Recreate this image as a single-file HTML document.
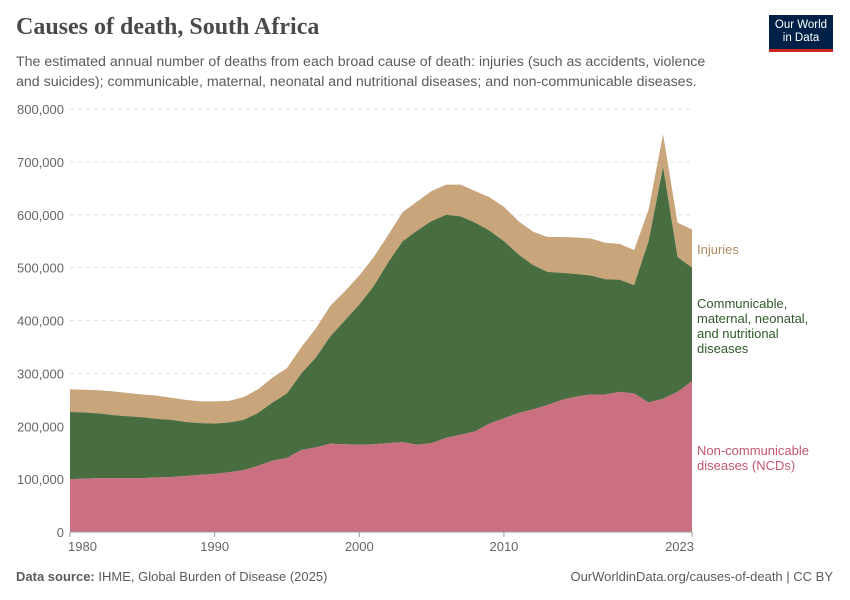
<!DOCTYPE html>
<html><head><meta charset="utf-8"><style>
body{margin:0;width:850px;height:600px;background:#fff;font-family:"Liberation Sans",sans-serif;overflow:hidden;position:relative}
.t{position:absolute}
</style></head><body>
<div class="t" style="left:16px;top:14px;font-family:'Liberation Serif',serif;font-size:24px;font-weight:bold;color:#4a4a4a">Causes of death, South Africa</div>
<div class="t" style="left:16px;top:52px;width:705px;font-size:14.2px;line-height:20px;color:#5b5b5b">The estimated annual number of deaths from each broad cause of death: injuries (such as accidents, violence and suicides); communicable, maternal, neonatal and nutritional diseases; and non-communicable diseases.</div>
<div class="t" style="left:769px;top:15px;width:64px;height:37px;background:#002147;border-bottom:3px solid #ce261e;color:#fff;font-size:11.5px;line-height:13px;text-align:center;padding-top:4px;box-sizing:border-box">Our World<br>in Data</div>
<svg id="c" class="t" style="left:0;top:0" width="850" height="600"></svg>
<div class="t" style="left:16px;top:569px;font-size:13px;color:#5b5b5b"><b>Data source:</b> IHME, Global Burden of Disease (2025)</div>
<div class="t" style="right:17px;top:569px;font-size:13px;color:#5b5b5b">OurWorldinData.org/causes-of-death | CC BY</div>
<script>
const years=[];for(let y=1980;y<=2023;y++)years.push(y);
const ncd=[100,101,102,102,102,102,103,104,106,108,110,113,117,125,135,140,155,160,167,166,165,166,168,170,165,168,178,184,190,205,215,225,232,240,250,256,260,260,265,262,245,252,265,285];
const comm=[127,125,122,119,117,115,111,108,102,98,95,94,95,100,110,122,145,170,203,234,265,299,342,380,405,420,422,413,395,365,335,300,273,252,240,232,225,218,212,205,305,438,255,215];
const inj=[43,43,44,45,44,43,44,42,42,41,42,41,43,45,47,48,50,55,58,55,55,55,52,55,55,57,57,60,60,63,65,63,63,66,68,69,70,69,68,66,60,62,65,72];
const yTicks=[0,100,200,300,400,500,600,700,800];
const xTicks=[1980,1990,2000,2010,2023];
const svg=document.getElementById('c');const NS='http://www.w3.org/2000/svg';
const X=y=>70+(y-1980)*(692-70)/43;
const Y=v=>532-v*(532-109)/800;
function mk(t,a){const e=document.createElementNS(NS,t);for(const k in a)e.setAttribute(k,a[k]);svg.appendChild(e);return e;}
yTicks.forEach(v=>{
 if(v>0){const l=mk('line',{x1:70,x2:692,y1:Y(v),y2:Y(v),stroke:'#ddd','stroke-dasharray':'4,4'});
 
 }
 const t=mk('text',{x:64,y:Y(v)+5,'text-anchor':'end','font-size':13,fill:'#666','font-family':'Liberation Sans'});
 t.textContent=v===0?'0':(v*1000).toLocaleString('en-US');
 
 
});
const base=years.map(()=>0),s1=ncd.slice(),s2=ncd.map((v,i)=>v+comm[i]),s3=s2.map((v,i)=>v+inj[i]);
function area(lo,hi,col,name){
 let d='M'+years.map((y,i)=>X(y)+','+Y(hi[i])).join('L');
 for(let i=years.length-1;i>=0;i--)d+='L'+X(years[i])+','+Y(lo[i]);
 const p=mk('path',{d:d+'Z',fill:col});
 
 
}
area(s2,s3,'#c8a57a','injuries-area');
area(s1,s2,'#486d40','communicable-area');
area(base,s1,'#cb7081','ncd-area');
mk('line',{x1:70,x2:692,y1:532,y2:532,stroke:'#999'});
xTicks.forEach(y=>{
 mk('line',{x1:X(y),x2:X(y),y1:532,y2:537,stroke:'#999'});
 const t=mk('text',{x:X(y),y:551,'text-anchor':y===1980?'start':(y===2023?'end':'middle'),'font-size':13,fill:'#666','font-family':'Liberation Sans'});
 if(y===1980)t.setAttribute('x',X(y)-2);
 if(y===2023)t.setAttribute('x',X(y)+2);
 t.textContent=y;
 
 
});
function lab(lines,y0,col,name){
 const t=mk('text',{x:697,y:y0,'font-size':13,fill:col,'font-family':'Liberation Sans'});
 lines.forEach((s,i)=>{const ts=document.createElementNS(NS,'tspan');ts.setAttribute('x',697);ts.setAttribute('dy',i?15:0);ts.textContent=s;t.appendChild(ts);});
 
 
}
lab(['Injuries'],254,'#b08a5e','injuries-label');
lab(['Communicable,','maternal, neonatal,','and nutritional','diseases'],308,'#2f5a28','communicable-label');
lab(['Non-communicable','diseases (NCDs)'],455,'#c4566e','ncd-label');
</script>
</body></html>
